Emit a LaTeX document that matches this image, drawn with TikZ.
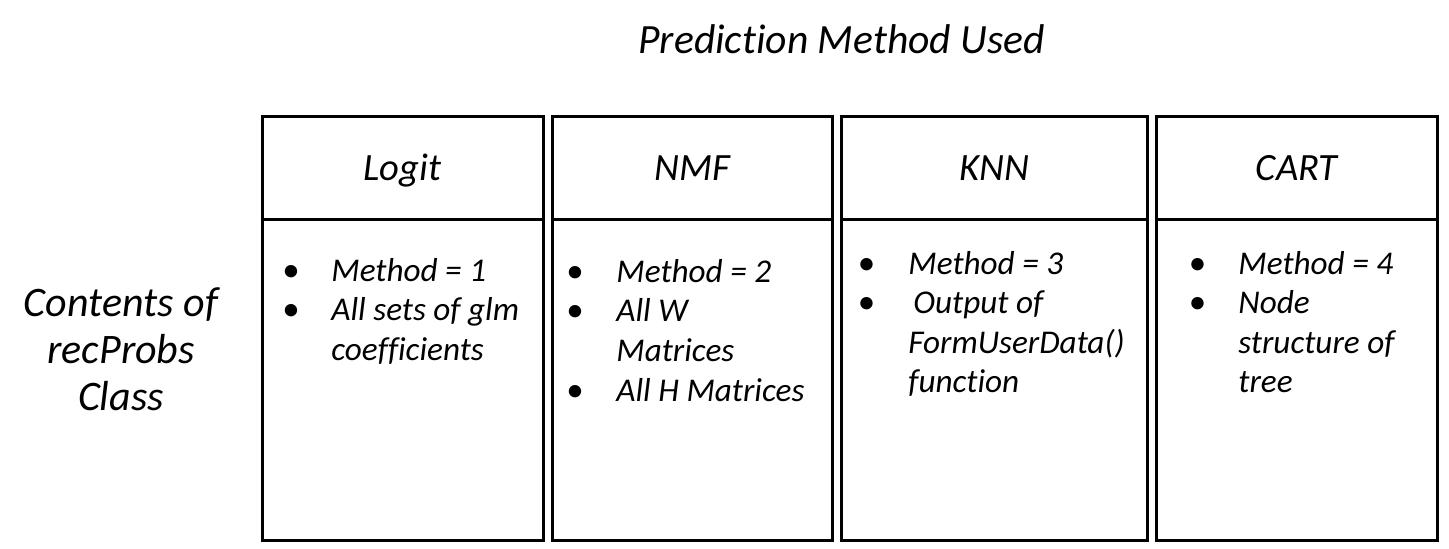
\documentclass[tikz,border=0pt]{standalone}
\usepackage{fontspec}
\setmainfont{Carlito}[Ligatures={NoCommon}]
\newcommand\titlefont{\fontsize{20.8pt}{25pt}\selectfont\itshape}
\newcommand\headfont{\fontsize{19.3pt}{22pt}\selectfont\itshape}
\newcommand\listfont{\fontsize{16.6pt}{19.75pt}\selectfont\itshape}
\newcommand\sidefont{\fontsize{21pt}{23.5pt}\selectfont\itshape}
\begin{document}
\begin{tikzpicture}[x=0.5pt,y=-0.5pt,
  natural spaces/.style={execute at begin node={\spaceskip=0pt\xspaceskip=0pt}},
  panel/.style={draw=black, line width=1.5pt, rectangle, inner sep=0pt,
    minimum height=211.5pt, minimum width=#1},
  divider/.style={line width=1.5pt},
  heading/.style={font=\headfont, inner sep=0pt, anchor=base},
  dotmark/.style={font=\fontsize{17.5pt}{19.75pt}\selectfont, inner sep=0pt, anchor=base},
  entry/.style={font=\listfont, inner sep=0pt, anchor=base west, text width=150pt,
    align=left, natural spaces},
]
\useasboundingbox (0,0) rectangle (1449,549);

% title and row label
\node[font=\titlefont, inner sep=0pt, anchor=base] (title) at (841.5,54) {Prediction Method Used};
\node[font=\sidefont, inner sep=0pt, align=center, text width=110pt, anchor=base,
  natural spaces] (side) at (121,317) {Contents of\\recProbs\\Class};

% the four method panels
\node[panel=140.5pt] (p1) at (402.5,328.5) {};
\node[panel=140pt]   (p2) at (692,328.5) {};
\node[panel=153pt]   (p3) at (994,328.5) {};
\node[panel=140.5pt] (p4) at (1296.5,328.5) {};

\foreach \p in {p1,p2,p3,p4}
  \draw[divider] (\p.west |- 0,220) -- (\p.east |- 0,220);

% panel headings
\node[heading] (h1) at (402.5,181) {Logit};
\node[heading] (h2) at (692,181) {NMF};
\node[heading] (h3) at (994,181) {KNN};
\node[heading] (h4) at (1296.5,181) {CART};

% Logit contents
\node[dotmark] (b1a) at (291,282) {•};
\node[entry]   (e1a) at (331,282) {Method = 1};
\node[dotmark] (b1b) at (291,321) {•};
\node[entry]   (e1b) at (331,321) {All sets of glm\\coefficients};

% NMF contents
\node[dotmark] (b2a) at (575,283) {•};
\node[entry]   (e2a) at (616,283) {Method = 2};
\node[dotmark] (b2b) at (575,322) {•};
\node[entry]   (e2b) at (616,322) {All W\\Matrices};
\node[dotmark] (b2c) at (575,402) {•};
\node[entry]   (e2c) at (616,402) {All H Matrices};

% KNN contents
\node[dotmark] (b3a) at (866.5,275) {•};
\node[entry]   (e3a) at (908,275) {Method = 3};
\node[dotmark] (b3b) at (866.5,314) {•};
\node[entry]   (e3b) at (908,314) {\hspace*{2.5pt}Output of\\FormUserData()\\function};

% CART contents
\node[dotmark] (b4a) at (1197.5,275) {•};
\node[entry]   (e4a) at (1238,275) {Method = 4};
\node[dotmark] (b4b) at (1197.5,314) {•};
\node[entry]   (e4b) at (1238,314) {Node\\structure of\\tree};
\end{tikzpicture}
\end{document}
